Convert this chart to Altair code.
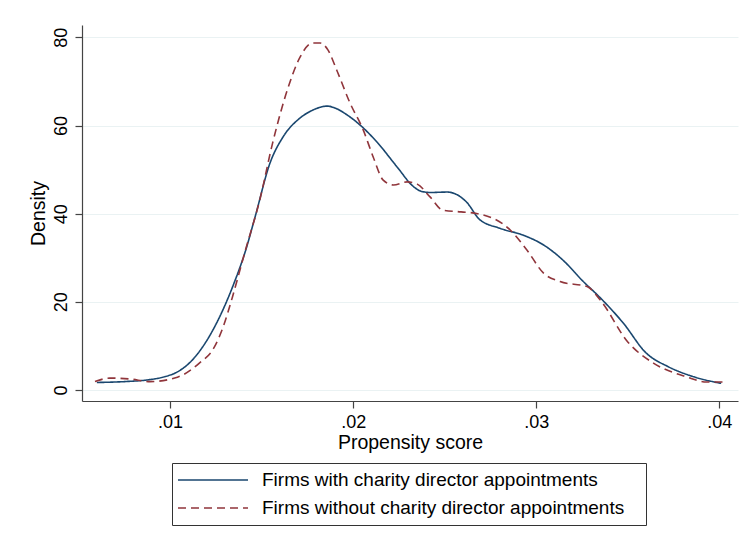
import altair as alt
import pandas as pd

series_names = ["Firms with charity director appointments",
                "Firms without charity director appointments"]

with_x = [0.0060, 0.0075, 0.0088, 0.0097, 0.0104, 0.0111, 0.0117, 0.0123, 0.0129,
          0.0135, 0.0141, 0.01464, 0.01546, 0.01617, 0.0171, 0.0178, 0.01858, 0.0191,
          0.01967, 0.02038, 0.02131, 0.0224, 0.02328, 0.0237, 0.0242, 0.02514, 0.0262,
          0.0269, 0.0280, 0.0293, 0.0304, 0.0315, 0.0325, 0.0335, 0.03475,
          0.0360, 0.0372, 0.0386, 0.0401]
with_y = [1.7, 1.9, 2.3, 3.0, 4.1, 6.3, 9.3, 13.3, 18.3,
          24.3, 31.3, 39.2, 51.5, 57.4, 61.7, 63.5, 64.4, 63.8,
          62.4, 60.1, 56.2, 50.6, 46.2, 45.1, 44.8, 44.9, 42.6,
          38.7, 36.7, 35.1, 32.9, 29.3, 24.9, 20.9, 15.2,
          8.4, 5.3, 3.0, 1.5]

without_x = [0.0059, 0.0067, 0.0078, 0.0089, 0.0104, 0.0116, 0.0124, 0.0129, 0.0134,
             0.0141, 0.0149, 0.0156, 0.0164, 0.0171, 0.01776, 0.0182, 0.01863,
             0.0191, 0.01984, 0.02055, 0.0211, 0.02164, 0.0222, 0.02295, 0.0235,
             0.0242, 0.0249, 0.0259, 0.0268, 0.02858, 0.0295, 0.0304, 0.0313,
             0.0328, 0.0335, 0.0350, 0.0364, 0.0382, 0.0393, 0.0404]
without_y = [1.9, 2.7, 2.5, 1.9, 2.9, 6.1, 9.6, 14.3, 21.0,
             31.5, 43.1, 56.0, 68.0, 75.5, 78.7, 78.7, 77.1,
             72.6, 65.0, 59.0, 52.8, 47.6, 46.5, 47.2, 46.7,
             43.8, 40.8, 40.4, 40.0, 36.3, 31.7, 26.5, 24.6,
             23.4, 20.4, 10.9, 6.1, 3.0, 1.8, 1.8]

x_ticks = [0.01, 0.02, 0.03, 0.04]
y_ticks = [0, 20, 40, 60, 80]

rows = []
for i, (xs, ys) in enumerate([(with_x, with_y), (without_x, without_y)]):
    for j, (a, b) in enumerate(zip(xs, ys)):
        rows.append({"x": a, "y": b, "group": series_names[i], "order": j})
df = pd.DataFrame(rows)

FONT = "Liberation Sans"
# trailing blank room so the legend frame is as wide as the reference's
PAD = " " * 3 + "\u200b"
legend = alt.Legend(title=None, orient="none", legendX=90, legendY=438,
                    direction="vertical",
                    labelExpr="datum.label + '" + PAD + "'")

chart = alt.Chart(df).mark_line(strokeWidth=1.6, interpolate="monotone").encode(
    x=alt.X("x:Q", title="Propensity score",
            scale=alt.Scale(domain=[0.00519, 0.04102], nice=False, zero=False),
            axis=alt.Axis(values=x_ticks, labelExpr="'.0' + round(datum.value*100)",
                          grid=False, tickSize=7, labelPadding=5, titlePadding=2)),
    y=alt.Y("y:Q", title="Density",
            scale=alt.Scale(domain=[-2.5, 82.8], nice=False, zero=False),
            axis=alt.Axis(values=y_ticks, grid=True, gridColor="#eaf2f3",
                          tickSize=7, labelAngle=270, labelAlign="center",
                          labelBaseline="bottom", labelPadding=5, titlePadding=4)),
    color=alt.Color("group:N", scale=alt.Scale(domain=series_names,
                                               range=["#1a476f", "#90353b"]),
                    legend=legend),
    strokeDash=alt.StrokeDash("group:N", scale=alt.Scale(domain=series_names,
                                                         range=[[1, 0], [8, 5]]),
                              legend=legend),
    order="order:Q",
).properties(
    width=656, height=376,
    autosize=alt.AutoSizeParams(type="none"),
    padding={"left": 82, "top": 25, "right": 7, "bottom": 147},
).configure_view(stroke=None).configure_axis(
    labelFont=FONT, titleFont=FONT, labelFontSize=18, titleFontSize=19.5,
    labelColor="#000", titleColor="#000", titleFontWeight="normal",
    domainColor="#444", tickColor="#444", domainWidth=1.2, tickWidth=1.2,
).configure_legend(
    labelFont=FONT, labelFontSize=19, labelColor="#000",
    strokeColor="#333", padding=5, symbolType="stroke", symbolSize=4900,
    symbolStrokeWidth=1.6, clipHeight=24, rowPadding=4, labelOffset=13,
    labelLimit=700,
)

chart.save("out.html", embed_options={"renderer": "svg", "actions": False})
